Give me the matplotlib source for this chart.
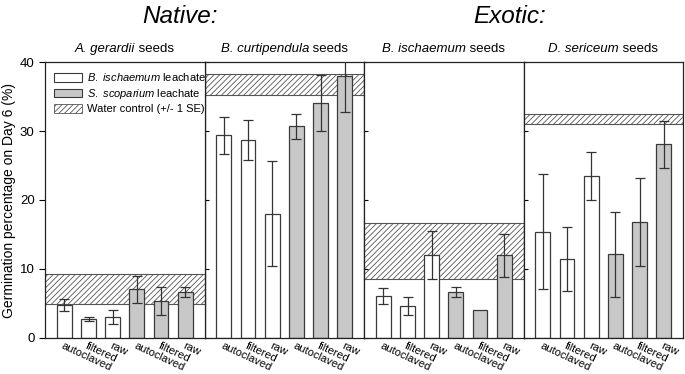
import numpy as np
import matplotlib
matplotlib.use("Agg")
import matplotlib.pyplot as plt
from matplotlib.patches import Patch
from matplotlib.transforms import ScaledTranslation

plt.rcParams['font.family'] = ['Liberation Sans', 'DejaVu Sans']
plt.rcParams['mathtext.fontset'] = 'custom'
plt.rcParams['mathtext.it'] = 'Liberation Sans:italic'
plt.rcParams['mathtext.rm'] = 'Liberation Sans'
plt.rcParams['hatch.linewidth'] = 0.6

# data
treatments = ["autoclaved", "filtered", "raw", "autoclaved", "filtered", "raw"]
species = ["A. gerardii", "B. curtipendula", "B. ischaemum", "D. sericeum"]

gerardii_mean = [4.7, 2.7, 3.0, 7.0, 5.3, 6.65]
gerardii_se = [0.9, 0.35, 1.0, 1.95, 2.05, 0.7]
curtipendula_mean = [29.4, 28.7, 18.0, 30.7, 34.1, 38.1]
curtipendula_se = [2.7, 2.9, 7.6, 1.8, 4.1, 5.3]
ischaemum_mean = [6.0, 4.6, 11.95, 6.6, 3.95, 11.95]
ischaemum_se = [1.15, 1.3, 3.5, 0.7, 0.0, 3.1]
sericeum_mean = [15.4, 11.4, 23.5, 12.1, 16.75, 28.1]
sericeum_se = [8.4, 4.7, 3.55, 6.15, 6.4, 3.45]

# water control band (lower, upper)
water_band = [(4.85, 9.2), (35.2, 38.35), (8.55, 16.6), (31.1, 32.5)]

means = [gerardii_mean, curtipendula_mean, ischaemum_mean, sericeum_mean]
ses = [gerardii_se, curtipendula_se, ischaemum_se, sericeum_se]

white = "white"
grey = "#c8c8c8"
edge = "#3a3a3a"


def ital(name):
    return " ".join(r"$\it{" + part + "}$" for part in name.split(" "))


def mixed_title(fig, renderer, parts, xc, y, size):
    # draw text pieces of different style side by side, centred on xc (pixels)
    texts = [fig.text(0, 0, s, style=st, fontsize=size, va="baseline") for s, st in parts]
    widths = [t.get_window_extent(renderer).width for t in texts]
    x0 = xc - sum(widths) / 2
    W, H = fig.bbox.width, fig.bbox.height
    for t, wd in zip(texts, widths):
        t.set_position((x0 / W, y / H))
        x0 += wd


fig = plt.figure(figsize=(6.85, 3.74), dpi=100)
renderer = fig.canvas.get_renderer()
left, bottom, w, h = 45 / 685, 36.5 / 374, 159.5 / 685, 275 / 374

x = np.arange(1, 7)
colors = [white] * 3 + [grey] * 3
axes = []

for i in range(4):
    ax = fig.add_axes([left + i * w, bottom, w, h])
    axes.append(ax)
    lo, hi = water_band[i]
    ax.axhspan(lo, hi, facecolor="white", edgecolor="#555555", hatch="//////",
               linewidth=0.8, zorder=1)
    ax.bar(x, means[i], width=0.62, color=colors, edgecolor=edge, linewidth=0.9, zorder=2)
    err = [e if e > 0 else np.nan for e in ses[i]]
    ax.errorbar(x, means[i], yerr=err, fmt="none", ecolor="#333333", elinewidth=0.9,
                capsize=3.5, capthick=0.9, zorder=3)
    ax.set_xlim(0.2, 6.8)
    ax.set_ylim(0, 40)
    ax.set_yticks([0, 10, 20, 30, 40])
    ax.set_xticks(x)
    ax.set_xticklabels(treatments, rotation=-25, ha="left", va="top",
                       rotation_mode="anchor", fontsize=8)
    offset = ScaledTranslation(-6 / 100, 0, fig.dpi_scale_trans)
    for lab in ax.get_xticklabels():
        lab.set_transform(lab.get_transform() + offset)
    ax.tick_params(axis="x", length=0, pad=2)
    for s in ax.spines.values():
        s.set_linewidth(0.9)
        s.set_color("#222222")
    if i == 0:
        ax.tick_params(axis="y", direction="out", length=4, labelsize=9.5)
        ax.set_ylabel("Germination percentage on Day 6 (%)", fontsize=10, labelpad=3)
    else:
        ax.tick_params(axis="y", direction="in", length=3, labelleft=False)
    xc = (left + (i + 0.5) * w) * 685
    mixed_title(fig, renderer, [(species[i], "italic"), (" seeds", "normal")],
                xc, 374 - 52, 9.5)

# legend in the first panel, kept above the neighbouring panel
ax1 = axes[0]
handles = [Patch(facecolor=white, edgecolor=edge, linewidth=0.8),
           Patch(facecolor=grey, edgecolor=edge, linewidth=0.8),
           Patch(facecolor="white", edgecolor="#555555", hatch="//////", linewidth=0.6)]
labels = [ital("B. ischaemum") + " leachate", ital("S. scoparium") + " leachate",
          "Water control (+/- 1 SE)"]
leg = ax1.legend(handles, labels, loc="upper left", frameon=False, fontsize=8,
                 handlelength=2.5, handleheight=0.8, borderaxespad=0.5,
                 borderpad=0.3, labelspacing=0.3, handletextpad=0.5)
ax1.set_zorder(5)

fig.text(180 / 685, 0.955, "Native:", fontsize=17.5, style="italic", ha="center", va="center")
fig.text(510 / 685, 0.955, "Exotic:", fontsize=17.5, style="italic", ha="center", va="center")

fig.savefig("out.png", dpi=100)
